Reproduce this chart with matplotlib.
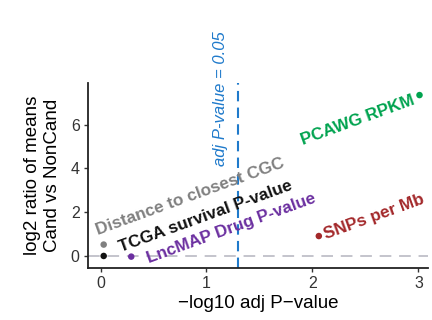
import matplotlib
matplotlib.use("Agg")
import matplotlib.pyplot as plt
import math

plt.rcParams['font.family'] = ['Liberation Sans', 'DejaVu Sans']

# data
features = ["TCGA survival P-value", "Distance to closest CGC", "LncMAP Drug P-value",
            "SNPs per Mb", "PCAWG RPKM"]
neglog10_p = [0.03, 0.03, 0.29, 2.06, 3.01]
log2_ratio = [0.0, 0.52, -0.03, 0.91, 7.35]
colors = ["#111111", "#808080", "#6b2fa0", "#a3282a", "#00a34f"]
threshold_p = 0.05

# label anchors (data coords)
label_x = [0.19, -0.02, 0.46, 2.13, 1.91]
label_y = [0.20, 0.96, -0.33, 0.76, 5.07]

fig = plt.figure(figsize=(4.32, 3.2), dpi=100)
ax = fig.add_axes([0.2037, 0.1625, 0.787, 0.578])
ax.set_xlim(-0.118, 3.09)
ax.set_ylim(-0.55, 7.9)

ax.axhline(0, color="#c4c4cc", lw=1.4, ls=(0, (6, 4)), zorder=1)
vx = -math.log10(threshold_p)
ax.axvline(vx, color="#1f7acb", lw=1.5, ls=(0, (5, 3)), zorder=1)
ax.text(1.2, 4.1, "adj P-value = 0.05", rotation=90, ha="right", va="bottom",
        fontsize=12, style="italic", color="#1f7acb", clip_on=False)

ax.scatter(neglog10_p, log2_ratio, c=colors, s=22, zorder=3, linewidths=0)
for f, lx, ly, c in zip(features, label_x, label_y, colors):
    ax.text(lx, ly, f, rotation=20, rotation_mode="anchor", ha="left", va="baseline",
            fontsize=12.3, fontweight="bold", color=c, zorder=4, clip_on=False)

for s in ["top", "right"]:
    ax.spines[s].set_visible(False)
for s in ["left", "bottom"]:
    ax.spines[s].set_linewidth(1.3)
    ax.spines[s].set_color("#222222")

ax.set_xticks([0, 1, 2, 3])
ax.set_yticks([0, 2, 4, 6])
ax.tick_params(length=3, width=1, color="#333333", labelsize=11.5, labelcolor="#333333", pad=3)
ax.set_xlabel("\u2212log10 adj P\u2212value", fontsize=13.5, labelpad=3)
ax.set_ylabel("log2 ratio of means\nCand vs NonCand", fontsize=13.5, labelpad=7)

fig.savefig("out.png", dpi=100)
